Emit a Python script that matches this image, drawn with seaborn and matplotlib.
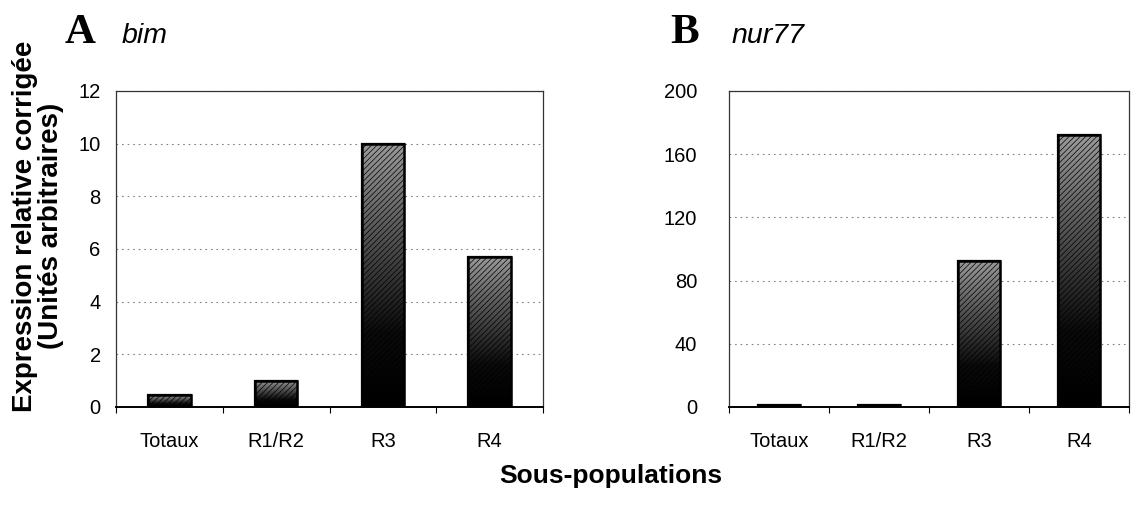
import numpy as np
import pandas as pd
import matplotlib
matplotlib.use("Agg")
import matplotlib.pyplot as plt
import seaborn as sns
from matplotlib.colors import LinearSegmentedColormap

categories = ["Totaux", "R1/R2", "R3", "R4"]
bim_values = [0.45, 1.0, 10.0, 5.7]
nur77_values = [1.5, 1.5, 92.5, 172.0]
bim_yticks = [0, 2, 4, 6, 8, 10, 12]
nur77_yticks = [0, 40, 80, 120, 160, 200]

sns.set_theme(style="white")
plt.rcParams["font.family"] = ["Liberation Sans", "DejaVu Sans"]
plt.rcParams["text.color"] = "black"
plt.rcParams["xtick.color"] = "black"
plt.rcParams["ytick.color"] = "black"
plt.rcParams["xtick.labelcolor"] = "black"
plt.rcParams["ytick.labelcolor"] = "black"
plt.rcParams["hatch.color"] = "#a0a0a0"
plt.rcParams["hatch.linewidth"] = 0.5

W, H = 1131, 508
fig = plt.figure(figsize=(W / 100, H / 100), dpi=100)
axA = fig.add_axes([116 / W, 1 - 407 / H, 427 / W, 316 / H])
axB = fig.add_axes([729 / W, 1 - 407 / H, 400 / W, 316 / H])

cmap = LinearSegmentedColormap.from_list(
    "g", [(0, "#000000"), (0.28, "#0a0a0a"), (1.0, "#9a9a9a")])


def panel(ax, values, yticks, label_pad, bar_w):
    df = pd.DataFrame({"cat": categories, "val": values})
    sns.barplot(data=df, x="cat", y="val", ax=ax, width=bar_w,
                color="#555555", edgecolor="black", linewidth=1.6, saturation=1)
    ax.set_yticks(yticks)
    ax.set_yticklabels([str(t) for t in yticks], fontsize=14.5, color="black")
    ax.set_xticklabels(categories, fontsize=14.5, color="black")
    ax.tick_params(axis="x", length=0, pad=18)
    ax.tick_params(axis="y", length=0, pad=label_pad)
    ax.set_xticks(np.arange(-0.5, len(categories)), minor=True)
    ax.tick_params(axis="x", which="minor", length=4, width=0.8,
                   color="black", direction="out", bottom=True)
    ax.set_xlabel("")
    ax.set_ylabel("")
    ax.yaxis.grid(True, linestyle=(0, (1.5, 3.5)), color="#808080", linewidth=0.8)
    ax.set_axisbelow(True)
    for s in ["top", "right", "left"]:
        ax.spines[s].set_visible(True)
        ax.spines[s].set_color("#333333")
        ax.spines[s].set_linewidth(0.9)
        ax.spines[s].set_linestyle((0, (3, 1)))
    ax.spines["bottom"].set_color("black")
    ax.spines["bottom"].set_linewidth(1.4)
    grad = np.linspace(0, 1, 256).reshape(-1, 1)
    for p in list(ax.patches):
        x0, y0 = p.get_x(), p.get_y()
        w, h = p.get_width(), p.get_height()
        im = ax.imshow(grad, cmap=cmap, origin="lower", aspect="auto",
                       extent=[x0, x0 + w, y0, y0 + h], zorder=p.get_zorder() + 0.1,
                       interpolation="bilinear")
        im.set_clip_path(p)
        ax.bar(x0 + w / 2, h, width=w, bottom=y0, fill=False,
               edgecolor="black", linewidth=0, hatch="//////",
               zorder=p.get_zorder() + 0.2)
        ax.bar(x0 + w / 2, h, width=w, bottom=y0, fill=False,
               edgecolor="black", linewidth=1.8, zorder=p.get_zorder() + 0.3)
    ax.set_xlim(-0.5, len(categories) - 0.5)
    ax.set_ylim(yticks[0], yticks[-1])


panel(axA, bim_values, bim_yticks, 11, 0.40)
panel(axB, nur77_values, nur77_yticks, 23, 0.42)

base_y = 1 - 43 / H
fig.text(65 / W, base_y, "A", fontsize=31, fontweight="bold",
         family="Liberation Serif", ha="left", va="baseline", color="black")
fig.text(122 / W, base_y, "bim", fontsize=20.5, fontstyle="italic",
         ha="left", va="baseline", color="black")
fig.text(670 / W, base_y, "B", fontsize=31, fontweight="bold",
         family="Liberation Serif", ha="left", va="baseline", color="black")
fig.text(732 / W, base_y, "nur77", fontsize=20.5, fontstyle="italic",
         ha="left", va="baseline", color="black")

fig.text(38 / W, 1 - 226 / H, "Expression relative corrigée\n(Unités arbitraires)",
         rotation=90, ha="center", va="center", fontsize=20,
         fontweight="bold", linespacing=1.0, color="black")
fig.text(611 / W, 1 - 476 / H, "Sous-populations", ha="center", va="center",
         fontsize=19, fontweight="bold", color="black")

fig.savefig("out.png", dpi=100)
